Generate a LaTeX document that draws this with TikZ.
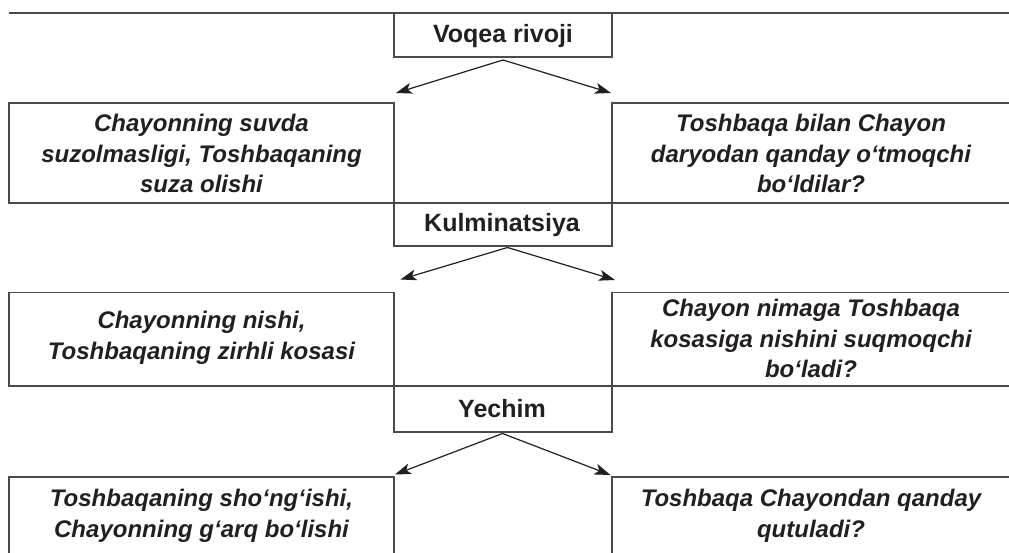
\documentclass[tikz,border=0pt]{standalone}
\usepackage{fontspec}
\setmainfont{Liberation Sans}
\usetikzlibrary{arrows.meta}
\definecolor{ink}{HTML}{231F20}
\definecolor{rule}{HTML}{4A4A4A}
\begin{document}
\begin{tikzpicture}[x=1pt,y=-1pt,
  frame/.style={line width=1.5pt, draw=rule},
  arr/.style={line width=1.2pt, draw=ink, -{Stealth[length=16pt,width=11pt,inset=4pt]}},
  stage/.style={font=\bfseries\fontsize{25}{30}\selectfont, text=ink, inner sep=0pt},
  cell/.style={font=\bfseries\itshape\fontsize{24}{30.8}\selectfont, text=ink, align=center, inner sep=0pt}]
\useasboundingbox (0,0) rectangle (1009,553);

% top rule and stage boxes
\draw[frame] (9,13) -- (1009,13);
\node[stage] (voqea) at (503,36) {Voqea rivoji};
\draw[frame] (394,13) -- (394,57) -- (612,57) -- (612,13);

% row 1
\draw[frame] (1009,103) -- (612,103) -- (612,246) -- (394,246) -- (394,103) -- (9,103) -- (9,203) -- (1009,203);
\node[stage] (kulm) at (502,225) {Kulminatsiya};
\node[cell] (l1) at (201.5,153.5) {Chayonning suvda\\suzolmasligi, Toshbaqaning\\suza olishi};
\node[cell] (r1) at (811,153.5) {Toshbaqa bilan Chayon\\daryodan qanday o‘tmoqchi\\bo‘ldilar?};

% row 2
\draw[frame] (1009,292.5) -- (612,292.5) -- (612,432) -- (394,432) -- (394,292.5) -- (9,292.5) -- (9,386) -- (1009,386);
\node[stage] (yechim) at (502,409) {Yechim};
\node[cell] (l2) at (201.5,338) {Chayonning nishi,\\Toshbaqaning zirhli kosasi};
\node[cell] (r2) at (811,338.5) {Chayon nimaga Toshbaqa\\kosasiga nishini suqmoqchi\\bo‘ladi?};

% row 3
\draw[frame] (1009,477) -- (612,477) -- (612,553);
\draw[frame] (394,553) -- (394,477) -- (9,477) -- (9,553);
\node[cell] (l3) at (201.5,515.5) {Toshbaqaning sho‘ng‘ishi,\\Chayonning g‘arq bo‘lishi};
\node[cell] (r3) at (811,515.5) {Toshbaqa Chayondan qanday\\qutuladi?};

% arrows
\coordinate (a1) at (503,60);
\coordinate (a1l) at (396,93);
\coordinate (a1r) at (611,93);
\coordinate (a2) at (507.5,247.5);
\coordinate (a2l) at (400.5,279.5);
\coordinate (a2r) at (615,280);
\coordinate (a3) at (502.5,433.5);
\coordinate (a3l) at (395,474.5);
\coordinate (a3r) at (610.5,475);
\draw[arr] (a1) -- (a1l);
\draw[arr] (a1) -- (a1r);
\draw[arr] (a2) -- (a2l);
\draw[arr] (a2) -- (a2r);
\draw[arr] (a3) -- (a3l);
\draw[arr] (a3) -- (a3r);
\end{tikzpicture}
\end{document}
